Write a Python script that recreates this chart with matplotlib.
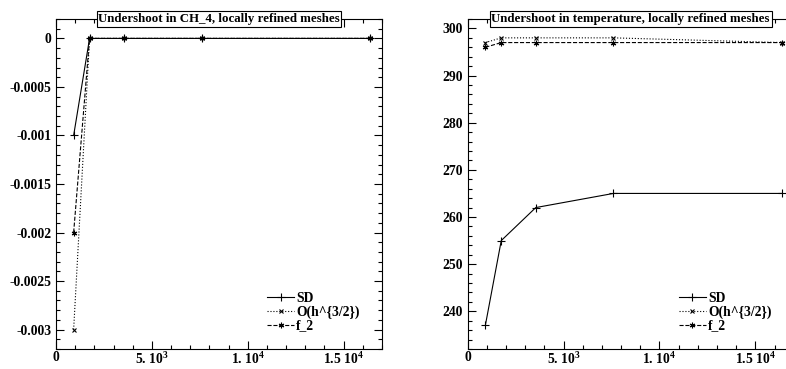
import matplotlib
matplotlib.use("Agg")
import matplotlib.pyplot as plt
from matplotlib.ticker import MultipleLocator

# Data
x_cells = [920, 1750, 3550, 7600, 16400]

ch4_sd = [-0.001, 0, 0, 0, 0]
ch4_oh32 = [-0.003, 0, 0, 0, 0]
ch4_f2 = [-0.002, 0, 0, 0, 0]

temp_sd = [237, 255, 262, 265, 265]
temp_oh32 = [297, 298, 298, 298, 297]
temp_f2 = [296, 297, 297, 297, 297]

series_labels = ["SD", "O(h^{3/2})", "f_2"]
titles = ["Undershoot in CH_4, locally refined meshes",
          "Undershoot in temperature, locally refined meshes"]

x_ticks = [0, 5000, 10000, 15000]
x_ticklabels = ["0", r"5. 10$^{3}$", r"1. 10$^{4}$", r"1.5 10$^{4}$"]
ch4_yticks = [0, -0.0005, -0.001, -0.0015, -0.002, -0.0025, -0.003]
ch4_yticklabels = ["0", "-0.0005", "-0.001", "-0.0015", "-0.002", "-0.0025", "-0.003"]
temp_yticks = [240, 250, 260, 270, 280, 290, 300]

plt.rcParams["font.family"] = ["Liberation Serif", "DejaVu Serif"]
plt.rcParams["font.weight"] = "bold"
plt.rcParams["mathtext.fontset"] = "custom"
plt.rcParams["mathtext.rm"] = "Liberation Serif:bold"
plt.rcParams["mathtext.bf"] = "Liberation Serif:bold"
plt.rcParams["mathtext.default"] = "rm"

fs = 9.8
styles = [dict(linestyle="-", marker="+", markersize=6),
          dict(linestyle=":", marker="x", markersize=3.5),
          dict(linestyle="--", marker=(6, 2, 0), markersize=4)]

fig = plt.figure(figsize=(7.86, 3.69), dpi=100)
W, H = 786.0, 369.0
ax1 = fig.add_axes([56 / W, 1 - 349 / H, 326 / W, 330 / H])
ax2 = fig.add_axes([467.7 / W, 1 - 349 / H, 326 / W, 330 / H])


def draw(ax, ys, title, ylim, ymajor, yminor):
    for y, lab, st in zip(ys, series_labels, styles):
        ax.plot(x_cells, y, color="black", linewidth=0.8,
                markeredgewidth=0.8, label=lab, clip_on=False, **st)
    ax.set_xlim(0, 17000)
    ax.set_ylim(*ylim)
    ax.set_xticks(x_ticks)
    ax.set_xticklabels(x_ticklabels)
    ax.xaxis.set_minor_locator(MultipleLocator(1000))
    ax.yaxis.set_major_locator(MultipleLocator(ymajor))
    ax.yaxis.set_minor_locator(MultipleLocator(yminor))
    ax.tick_params(which="both", direction="in", top=True, right=True,
                   labelsize=fs, width=0.8)
    ax.tick_params(which="major", length=6)
    ax.tick_params(which="minor", length=3)
    ax.tick_params(axis="x", pad=1.5)
    for s in ax.spines.values():
        s.set_linewidth(0.8)
    ax.text(0.5, 1.0, title, transform=ax.transAxes, ha="center", va="center",
            fontsize=9.3, fontweight="bold", zorder=5,
            bbox=dict(facecolor="white", edgecolor="black", linewidth=0.8,
                      boxstyle="square,pad=0.12"))
    ax.legend(loc="upper left", bbox_to_anchor=(0.647, 0.174), frameon=False,
              fontsize=fs, handlelength=2.0, handletextpad=0.15,
              labelspacing=0.05, borderpad=0, borderaxespad=0)


draw(ax1, [ch4_sd, ch4_oh32, ch4_f2], titles[0], (-0.0032, 0.0002), 0.0005, 0.0001)
ax1.set_yticks(ch4_yticks)
ax1.set_yticklabels(ch4_yticklabels)
draw(ax2, [temp_sd, temp_oh32, temp_f2], titles[1], (232, 302), 10, 2)
ax2.set_yticks(temp_yticks)

fig.savefig("out.png", dpi=100)
